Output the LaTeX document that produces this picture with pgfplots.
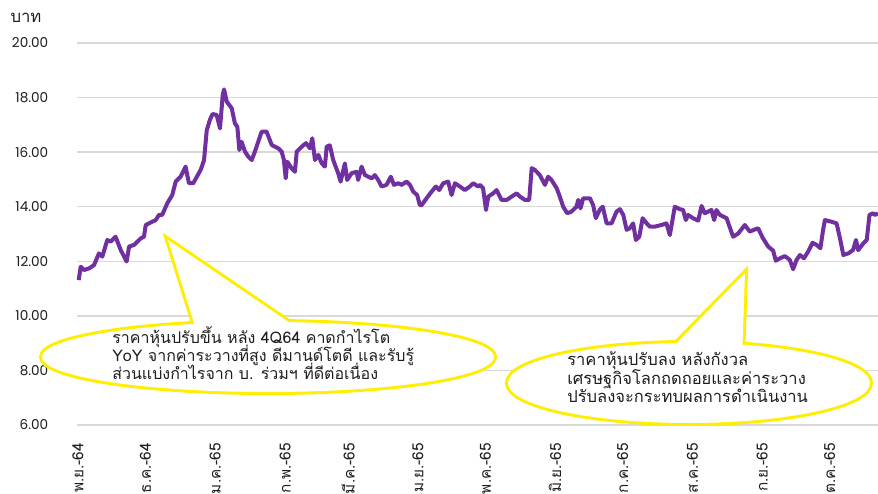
\documentclass[border=0pt]{standalone}
\usepackage{fontspec}
\usepackage{pgfplots}
\pgfplotsset{compat=1.18}
\setmainfont[Script=Thai]{Loma}
\newfontfamily\poppins{Poppins}
\definecolor{lineP}{RGB}{112,48,160}
\definecolor{gridG}{RGB}{217,217,217}
\definecolor{callY}{RGB}{255,238,0}
\definecolor{txt}{RGB}{30,30,30}
\begin{document}
\lineskiplimit=-100pt
\begin{tikzpicture}
\begin{axis}[
  at={(0,0)}, anchor=south west,
  scale only axis, width=600.75pt, height=286.5pt,
  xmin=-0.45, xmax=355.5, ymin=6, ymax=20,
  ytick={6,8,...,20},
  ymajorgrids, grid style={color=gridG, line width=1.1pt},
  axis line style={draw=none}, tick style={draw=none},
  /pgf/number format/.cd, fixed, fixed zerofill, precision=2, assume math mode=true,
  /pgfplots/.cd,
  yticklabel style={font=\poppins\fontsize{10.2}{12}\selectfont, text=txt, xshift=-18pt},
  xtick={0,30,61,92,120,151,181,212,242,273,304,334},
  xticklabels={พ.ย.-64,ธ.ค.-64,ม.ค.-65,ก.พ.-65,มี.ค.-65,เม.ย.-65,พ.ค.-65,มิ.ย.-65,ก.ค.-65,ส.ค.-65,ก.ย.-65,ต.ค.-65},
  xticklabel style={font=\fontsize{11.5}{13}\selectfont, text=txt, yshift=-10pt, rotate=90, anchor=east},
]
\addplot[lineP, line width=3pt, line join=round] table {
x y
0.3 11.31
1.2 11.80
2.7 11.68
4.9 11.74
7.1 11.86
9.3 12.29
10.8 12.17
13.0 12.78
14.5 12.72
16.7 12.90
19.0 12.41
21.6 11.99
22.7 12.54
24.9 12.60
27.9 12.84
29.3 12.90
30.1 13.33
33.0 13.45
34.5 13.51
36.0 13.70
37.4 13.70
39.7 14.13
41.9 14.43
43.4 14.92
45.6 15.10
47.8 15.47
49.3 14.86
51.2 14.86
54.5 15.35
56.0 15.70
57.2 16.80
58.6 17.18
59.8 17.40
61.6 17.36
63.1 16.87
64.3 18.09
64.9 18.30
66.1 17.85
68.3 17.61
69.7 17.06
70.8 16.93
71.7 16.08
72.7 16.38
74.2 16.02
75.7 15.83
77.2 15.71
78.6 16.02
81.6 16.75
83.8 16.75
86.1 16.26
89.0 16.14
90.5 16.02
91.5 15.71
92.3 15.04
93.0 15.65
94.9 15.41
96.4 15.28
97.2 16.02
99.4 16.20
101.3 16.33
103.1 16.14
104.1 16.51
105.3 15.71
106.8 15.90
108.3 15.59
109.7 15.47
110.5 16.20
111.9 16.25
113.4 15.71
115.6 15.23
116.7 14.92
118.6 15.59
119.6 14.98
121.6 15.23
123.8 15.28
124.5 14.98
126.0 15.47
127.5 15.16
130.5 15.04
131.9 15.16
133.4 14.98
134.9 14.74
137.1 14.80
139.0 15.10
140.4 14.80
142.3 14.86
143.8 14.80
146.0 14.92
147.5 14.80
149.0 14.55
150.7 14.43
151.9 14.06
152.7 14.06
154.9 14.31
157.1 14.55
159.0 14.74
160.5 14.61
162.3 14.86
164.5 14.92
166.0 14.43
167.5 14.86
169.7 14.74
171.9 14.61
174.1 14.74
175.6 14.86
177.8 14.74
178.6 14.80
180.0 14.68
181.3 13.88
182.3 14.37
184.5 14.49
186.0 14.61
188.2 14.25
190.5 14.25
192.7 14.37
194.9 14.49
196.4 14.37
198.6 14.25
200.5 14.25
201.6 15.41
203.0 15.35
205.2 15.16
207.5 14.80
208.9 15.10
210.4 14.98
212.7 14.68
214.1 14.37
215.6 14.00
217.4 13.76
219.3 13.82
221.5 14.00
222.3 14.25
223.3 13.94
224.5 14.31
227.5 14.31
228.9 14.06
230.1 13.58
231.9 13.90
233.2 14.00
234.9 13.39
237.1 13.39
239.3 13.82
240.8 13.91
242.3 13.70
243.8 13.15
245.2 13.21
246.7 13.39
247.9 12.78
249.4 12.90
250.9 13.58
252.7 13.39
254.1 13.27
256.3 13.27
259.3 13.33
261.5 13.39
263.0 12.96
265.2 14.00
267.4 13.91
268.9 13.88
270.1 13.51
271.1 13.70
273.3 13.58
275.6 13.49
277.1 14.03
278.5 13.76
280.0 13.82
281.5 13.88
282.7 13.51
283.7 13.88
285.2 13.70
288.2 13.58
291.1 12.90
293.4 13.02
296.3 13.33
298.5 13.09
300.3 13.15
302.2 13.21
304.4 12.84
306.7 12.54
308.9 12.39
310.1 12.02
311.9 12.11
314.1 12.19
316.3 12.05
317.8 11.71
319.3 12.05
320.8 12.23
322.6 12.11
324.4 12.35
326.4 12.68
328.2 12.60
329.9 12.48
331.1 13.15
331.9 13.51
334.8 13.45
337.1 13.39
338.6 12.84
340.1 12.23
342.3 12.29
344.4 12.41
345.7 12.78
346.7 12.41
349.0 12.66
350.5 12.78
351.7 13.70
353.2 13.76
354.2 13.70
355.5 13.76
};
\end{axis}
\begin{scope}[shift={(-57.75pt,318.75pt)}, x=0.75pt, y=-0.75pt]
  \node[font=\fontsize{12.5}{14}\selectfont, text=txt] at (26,18) {บาท};
  % callout 1
  \draw[callY, line width=4.5pt, line join=miter] (268,357) ellipse [x radius=169.5pt, y radius=26.25pt];
  \draw[callY, line width=4.5pt, line join=miter] (168,240) -- (201,345) -- (315,340) -- cycle;
  \fill[white] (268,357) ellipse [x radius=169.5pt, y radius=26.25pt];
  \fill[white] (168,240) -- (201,345) -- (315,340) -- cycle;
  % callout 2
  \draw[callY, line width=4.5pt, line join=miter] (689,383) ellipse [x radius=135.75pt, y radius=30pt];
  \draw[callY, line width=4.5pt, line join=miter] (745,273) -- (660,360) -- (742,360) -- cycle;
  \fill[white] (689,383) ellipse [x radius=135.75pt, y radius=30pt];
  \fill[white] (745,273) -- (660,360) -- (742,360) -- cycle;
  \node[anchor=north west, align=left, inner sep=0pt, text=txt, font=\fontsize{12}{13.6}\selectfont] at (112,326)
    {ราคาหุ้นปรับขึ้น หลัง 4Q64 คาดกำไรโต\\YoY จากค่าระวางที่สูง ดีมานด์โตดี และรับรู้\\ส่วนแบ่งกำไรจาก บ. ร่วมฯ ที่ดีต่อเนื่อง};
  \node[anchor=north west, align=left, inner sep=0pt, text=txt, font=\fontsize{12.4}{14.2}\selectfont] at (567,351)
    {ราคาหุ้นปรับลง หลังกังวล\\เศรษฐกิจโลกถดถอยและค่าระวาง\\ปรับลงจะกระทบผลการดำเนินงาน};
\end{scope}
\pgfresetboundingbox
\path[use as bounding box] (-57.75pt,318.75pt) rectangle (600.75pt,-51pt);
\end{tikzpicture}
\end{document}
